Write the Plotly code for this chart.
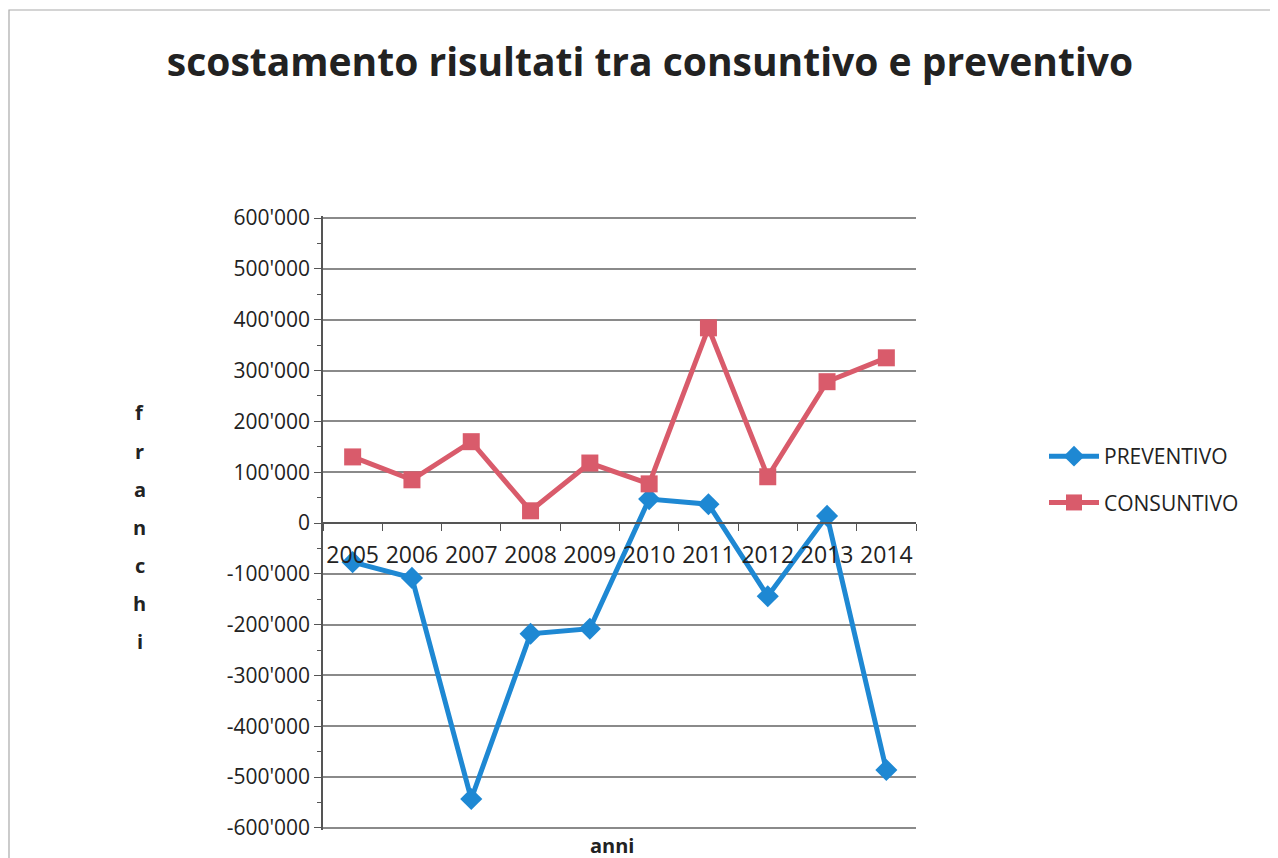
import plotly.graph_objects as go

years = ["2005", "2006", "2007", "2008", "2009", "2010", "2011", "2012", "2013", "2014"]
preventivo = [-77000, -108000, -543000, -218000, -208000, 47000, 37000, -144000, 14000, -486000]
consuntivo = [130000, 85000, 160000, 24000, 118000, 77000, 384000, 91000, 278000, 325000]
y_tickvals = [600000, 500000, 400000, 300000, 200000, 100000, 0, -100000, -200000, -300000, -400000, -500000, -600000]
y_ticktext = ["600'000", "500'000", "400'000", "300'000", "200'000", "100'000", "0",
              "-100'000", "-200'000", "-300'000", "-400'000", "-500'000", "-600'000"]
y_title = "franchi"

BLUE = "#1E88D3"
RED = "#D95B6B"
FONT = "Open Sans, Noto Sans, sans-serif"

# page body adds an 8px offset; work in screen pixels and subtract it
OFF = 8
W, H = 1278 - OFF, 858 - OFF
YMAX = 600000
PAD = 4000
scale = (828 - 218) / (2 * YMAX)
ext = PAD * scale
L = 323 - OFF
T = round(218 - ext) - OFF
R = W - (916 - OFF)
B = H - (round(828 + ext) - OFF)
pw = W - L - R
ph = H - T - B


def px(xs):
    return (xs - OFF - L) / pw


def py(ys):
    return 1 - (ys - OFF - T) / ph


fig = go.Figure()
fig.add_trace(go.Scatter(x=years, y=preventivo, name="PREVENTIVO", mode="lines+markers",
                         line=dict(color=BLUE, width=5),
                         marker=dict(symbol="diamond", size=17, color=BLUE),
                         legendgroup="a"))
fig.add_trace(go.Scatter(x=years, y=consuntivo, name="CONSUNTIVO", mode="lines+markers",
                         line=dict(color=RED, width=5),
                         marker=dict(symbol="square", size=17, color=RED),
                         legendgroup="b"))

fig.update_layout(
    width=W, height=H,
    margin=dict(l=L, r=R, t=T, b=B),
    paper_bgcolor="white", plot_bgcolor="white",
    font=dict(family=FONT, color="#222"),
    title=dict(text="<b>scostamento risultati tra consuntivo e preventivo</b>",
               x=(650 - OFF) / W, xanchor="center", y=1 - (62 - OFF) / H, yanchor="middle",
               font=dict(size=39, family=FONT, color="#222")),
    legend=dict(x=px(1044), xanchor="left",
                y=py(436), yanchor="top",
                font=dict(size=21, family=FONT, color="#222"),
                tracegroupgap=16, traceorder="grouped", itemwidth=50,
                bgcolor="rgba(0,0,0,0)"),
    showlegend=True,
)

fig.update_xaxes(
    type="category", anchor="free", position=0.5,
    showline=True, linecolor="#555", linewidth=1.5,
    ticks="outside", ticklen=7, tickcolor="#555", tickson="boundaries",
    showgrid=False, zeroline=False, tickangle=0,
    ticklabelstandoff=12,
    tickfont=dict(size=23, family=FONT, color="#222"),
    range=[-0.5, 9.5],
)
fig.update_yaxes(
    range=[-YMAX - PAD, YMAX + PAD],
    tickvals=y_tickvals, ticktext=y_ticktext,
    showline=True, linecolor="#555", linewidth=1.5,
    ticks="outside", ticklen=7, tickcolor="#555",
    minor=dict(ticks="outside", ticklen=4, tickcolor="#555", dtick=50000, showgrid=False),
    showgrid=True, gridcolor="#8a8a8a", gridwidth=1.5,
    zeroline=False,
    tickfont=dict(size=21, family=FONT, color="#222"),
)

# vertical stacked y-axis title
for i, ch in enumerate(y_title):
    fig.add_annotation(text=f"<b>{ch}</b>", xref="paper", yref="paper",
                       x=px(140), y=py(413 + i * 38),
                       xanchor="center", yanchor="middle", showarrow=False,
                       font=dict(size=20, family=FONT, color="#222"))

fig.add_annotation(text="<b>anni</b>", xref="paper", yref="paper",
                   x=px(612), y=py(845),
                   xanchor="center", yanchor="middle", showarrow=False,
                   font=dict(size=20, family=FONT, color="#222"))

# outer chart border
fig.add_shape(type="rect", xref="paper", yref="paper",
              x0=px(OFF + 1), x1=px(1300),
              y0=py(900), y1=py(10),
              line=dict(color="#aaa", width=1.2), fillcolor="rgba(0,0,0,0)", layer="below")

fig.write_html("out.html")
